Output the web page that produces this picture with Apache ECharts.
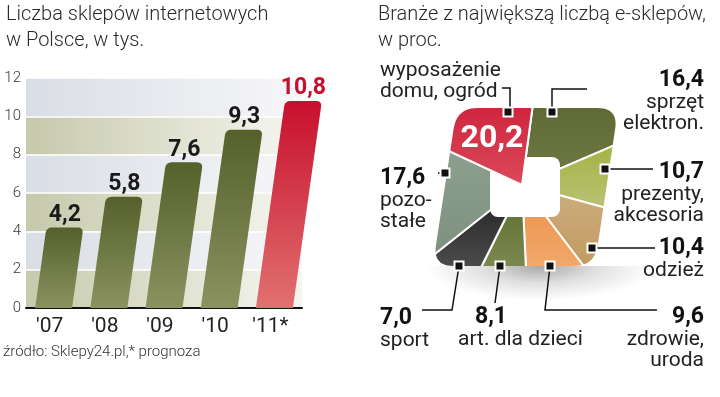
<!DOCTYPE html>
<html><head><meta charset="utf-8">
<script src="https://cdn.jsdelivr.net/npm/echarts@6/dist/echarts.min.js"></script>
<style>html,body{margin:0;padding:0;background:#fff}#c{width:720px;height:397px}</style>
</head><body><div id="c"></div>
<script>
// ---------- data ----------
const barCategories = ["'07", "'08", "'09", "'10", "'11*"];
const barValues = [4.2, 5.8, 7.6, 9.3, 10.8];
const barForecast = [false, false, false, false, true];
const yMin = 0, yMax = 12, yInterval = 2;

const pieNames = ['wyposażenie\ndomu, ogród', 'sprzęt\nelektron.', 'prezenty,\nakcesoria', 'odzież',
                  'zdrowie,\nuroda', 'art. dla dzieci', 'sport', 'pozo-\nstałe'];
const pieValues = [20.2, 16.4, 10.7, 10.4, 9.6, 8.1, 7.0, 17.6];

// ---------- styles / layout ----------
const PIE_COLORS = [
  ['#c8122f', '#db4a5a'], ['#56602c', '#6f7a45'], ['#a1b13d', '#bcc47c'], ['#cdae80', '#bf975a'],
  ['#ea8e48', '#f5b57c'], ['#5a6a2c', '#8a965e'], ['#1e1e1e', '#5a5a5a'], ['#8fa190', '#7d907e']
];
const PIE_CENTER = [522, 185];
const PIE_R = 120;
const PIE_START = 155;
const PIE_LABEL_POS = [
  [380, 60, 'left'], [704, 68, 'right'], [704, 160, 'right'], [704, 236, 'right'],
  [704, 305, 'right'], [458, 305, 'left'], [380, 306, 'left'], [380, 166, 'left']
];
const MARKERS = [[508, 112], [552, 112], [605, 169], [592, 248], [550, 266], [500, 266], [459, 266], [445, 173]];
const LEADERS = [
  [[502, 88], [510, 88], [510, 112]],
  [[552, 112], [552, 89], [587, 89]],
  [[605, 169], [653, 169]],
  [[592, 248], [655, 248]],
  [[550, 266], [545, 310], [657, 310]],
  [[500, 266], [495, 303]],
  [[459, 266], [452, 310], [422, 310]],
  [[438, 173], [445, 173]]
];
const SH = { top: 108, bottom: 266, tl: 456.8, tr: 618.3, bl: 432.8, br: 594.6, r: 21, mid: 525 };
const SKEW = 0.14;

const fmt = v => v.toFixed(1).replace('.', ',');
const LG = echarts.graphic.LinearGradient;

function towards(P, Q, d) {
  const dx = Q[0] - P[0], dy = Q[1] - P[1], L = Math.hypot(dx, dy);
  return [P[0] + dx / L * d, P[1] + dy / L * d];
}
function roundCorner(pts, prev, P, next, r, n) {
  n = n || 8;
  const a = towards(P, prev, r), b = towards(P, next, r);
  for (let k = 0; k <= n; k++) {
    const t = k / n, u = 1 - t;
    pts.push([u * u * a[0] + 2 * u * t * P[0] + t * t * b[0], u * u * a[1] + 2 * u * t * P[1] + t * t * b[1]]);
  }
}
function shapeBoundary() {
  const TL = [SH.tl, SH.top], TR = [SH.tr, SH.top], BR = [SH.br, SH.bottom], BL = [SH.bl, SH.bottom];
  const c = [TL, TR, BR, BL];
  const pts = [[SH.mid, SH.top]];
  let iBottom = 0;
  for (let k = 1; k <= 4; k++) {
    const P = c[k % 4], prev = c[k - 1], next = c[(k + 1) % 4];
    roundCorner(pts, prev, P, next, SH.r, 12);
    if (k === 2) { iBottom = pts.length; pts.push([SH.mid, SH.bottom]); }
  }
  return { pts, iBottom };
}
const SB = shapeBoundary();
const X0 = 395, X1 = 650, Y0 = 58, Y1 = 312;
const maskRight = [[SH.mid, Y0], [X1, Y0], [X1, Y1], [SH.mid, Y1]].concat(SB.pts.slice(0, SB.iBottom + 1).reverse());
const maskLeft = [[SH.mid, Y1]].concat(SB.pts.slice(SB.iBottom)).concat([SB.pts[0], [SH.mid, Y0], [X0, Y0], [X0, Y1]]);

function sliceColor(i) {
  return new LG(0, 0, 0, 1, [{ offset: 0, color: PIE_COLORS[i][0] }, { offset: 1, color: PIE_COLORS[i][1] }]);
}

const chart = echarts.init(document.getElementById('c'), null, { renderer: 'canvas' });

const graphics = [
  { type: 'text', x: 6, y: 2, z: 20, style: { text: 'Liczba sklepów internetowych\nw Polsce, w tys.', font: '300 20px Roboto', fill: '#2a2a2a', lineHeight: 26 } },
  { type: 'text', x: 378, y: 2, z: 20, style: { text: 'Branże z największą liczbą e-sklepów,\nw proc.', font: '300 20px Roboto', fill: '#2a2a2a', lineHeight: 26 } },
  { type: 'text', x: 3, y: 345, z: 20, style: { text: 'źródło: Sklepy24.pl,* prognoza', font: '300 15px Roboto', fill: '#333' } },
  // hole
  { type: 'rect', z: 3, shape: { x: 490, y: 157, width: 70, height: 60, r: 8 }, style: { fill: '#fff' } },
  // mask
  { type: 'polygon', z: 10, silent: true, shape: { points: maskRight }, style: { fill: '#fff' } },
  { type: 'polygon', z: 10, silent: true, shape: { points: maskLeft }, style: { fill: '#fff' } },
  // shadow
  { type: 'rect', z: 11, silent: true, x: 540, y: 266, scaleY: 0.3,
    shape: { x: -115, y: 0, width: 230, height: 115 },
    style: { fill: new echarts.graphic.RadialGradient(0.5, 0, 1, [{ offset: 0, color: 'rgba(0,0,0,0.34)' }, { offset: 0.5, color: 'rgba(0,0,0,0.12)' }, { offset: 1, color: 'rgba(0,0,0,0)' }]) } }
];
LEADERS.forEach(pts => graphics.push({ type: 'polyline', z: 13, shape: { points: pts }, style: { stroke: '#111', lineWidth: 1.5, fill: null } }));
MARKERS.forEach(p => graphics.push({ type: 'rect', z: 14, shape: { x: p[0] - 4.5, y: p[1] - 4.5, width: 9, height: 9 }, style: { fill: '#111', stroke: '#fff', lineWidth: 2 } }));

const pieBase = {
  type: 'pie', center: PIE_CENTER, radius: PIE_R, startAngle: PIE_START, clockwise: true,
  avoidLabelOverlap: false, silent: true, animation: false, emphasis: { disabled: true },
  labelLine: { show: false }
};

const option = {
  animation: false,
  backgroundColor: '#fff',
  grid: { left: 26, right: 418, top: 78, bottom: 89 },
  xAxis: {
    type: 'category', data: barCategories, boundaryGap: true,
    axisLine: { lineStyle: { color: '#111', width: 2 } },
    axisTick: { show: false },
    axisLabel: { color: '#222', fontSize: 21, fontFamily: 'Roboto', margin: 8, padding: [0, 8, 0, 0] }
  },
  yAxis: {
    type: 'value', min: yMin, max: yMax, interval: yInterval,
    axisLine: { show: false }, axisTick: { show: false },
    axisLabel: { color: '#3a3a3a', fontSize: 15, fontFamily: 'Roboto', fontWeight: 300, margin: 5 },
    splitLine: { show: true, lineStyle: { color: '#fff', width: 1.5 } },
    splitArea: { show: true, areaStyle: { color: [
      new LG(0, 0, 1, 0, [{ offset: 0, color: '#c6c9ab' }, { offset: 1, color: '#f6f6f1' }]),
      new LG(0, 0, 1, 0, [{ offset: 0, color: '#d9dde5' }, { offset: 1, color: '#f7f7f9' }])
    ] } }
  },
  graphic: { elements: graphics },
  series: [
    {
      type: 'custom', z: 5, animation: false,
      data: barValues.map((v, i) => [i, v]),
      encode: { x: 0, y: 1 },
      renderItem: function (params, api) {
        const i = api.value(0), v = api.value(1);
        const p0 = api.coord([i, 0]), p1 = api.coord([i, v]);
        const w = api.size([1, 0])[0] * 0.67;
        const h = p0[1] - p1[1], sx = h * SKEW;
        const BL = [p0[0] - w / 2, p0[1]], BR = [p0[0] + w / 2, p0[1]];
        const TL = [p0[0] - w / 2 + sx, p1[1]], TR = [p0[0] + w / 2 + sx, p1[1]];
        const pts = [BL];
        roundCorner(pts, BL, TL, TR, 6);
        roundCorner(pts, TL, TR, BR, 6);
        pts.push(BR);
        const fc = barForecast[i];
        const fill = fc
          ? new LG(0, 0, 0, 1, [{ offset: 0, color: '#c80f2d' }, { offset: 1, color: '#e1716f' }])
          : new LG(0, 0, 0, 1, [{ offset: 0, color: '#55602b' }, { offset: 1, color: '#8a9360' }]);
        return { type: 'group', children: [
          { type: 'polygon', shape: { points: pts }, style: { fill: fill } },
          { type: 'text', style: { text: fmt(v), x: (TL[0] + TR[0]) / 2, y: p1[1] - 1, align: 'center', verticalAlign: 'bottom',
            fill: fc ? '#c8102e' : '#1a1a1a', font: 'bold 23px Roboto' } }
        ] };
      }
    },
    Object.assign({}, pieBase, {
      z: 2,
      itemStyle: { borderColor: '#fff', borderWidth: 2 },
      label: { show: false },
      data: pieValues.map((v, i) => ({ value: v, name: pieNames[i], itemStyle: { color: sliceColor(i) } }))
    }),
    Object.assign({}, pieBase, {
      z: 4,
      label: { show: true, position: 'outside', formatter: p => fmt(p.value), color: '#fff', fontFamily: 'Roboto', fontWeight: 'bold', fontSize: 32 },
      labelLayout: { x: 492, y: 139, align: 'center', verticalAlign: 'middle' },
      data: pieValues.map((v, i) => i === 0
        ? { value: v, name: pieNames[i], itemStyle: { color: sliceColor(i), borderColor: '#fff', borderWidth: 2 } }
        : { value: v, name: pieNames[i], itemStyle: { color: 'rgba(0,0,0,0)', borderWidth: 0 }, label: { show: false } })
    }),
    Object.assign({}, pieBase, {
      z: 12,
      itemStyle: { color: 'rgba(0,0,0,0)', borderWidth: 0 },
      label: {
        show: true, position: 'outside',
        formatter: function (p) {
          const names = pieNames[p.dataIndex].split('\n').map(s => '{n|' + s + '}').join('\n');
          if (p.dataIndex === 0) return names;
          const tag = p.dataIndex === 5 ? 'vp' : 'v';
          return '{' + tag + '|' + fmt(p.value) + '}\n' + names;
        },
        rich: {
          v: { fontFamily: 'Roboto', fontWeight: 'bold', fontSize: 23, color: '#111', lineHeight: 24 },
          vp: { fontFamily: 'Roboto', fontWeight: 'bold', fontSize: 23, color: '#111', lineHeight: 24, padding: [0, 0, 0, 17] },
          n: { fontFamily: 'Roboto', fontSize: 21, color: '#222', lineHeight: 21 }
        }
      },
      labelLayout: function (p) {
        const L = PIE_LABEL_POS[p.dataIndex];
        return { x: L[0], y: L[1], align: L[2], verticalAlign: 'top' };
      },
      data: pieValues.map((v, i) => ({ value: v, name: pieNames[i] }))
    })
  ]
};
chart.setOption(option);
</script>
</body></html>
